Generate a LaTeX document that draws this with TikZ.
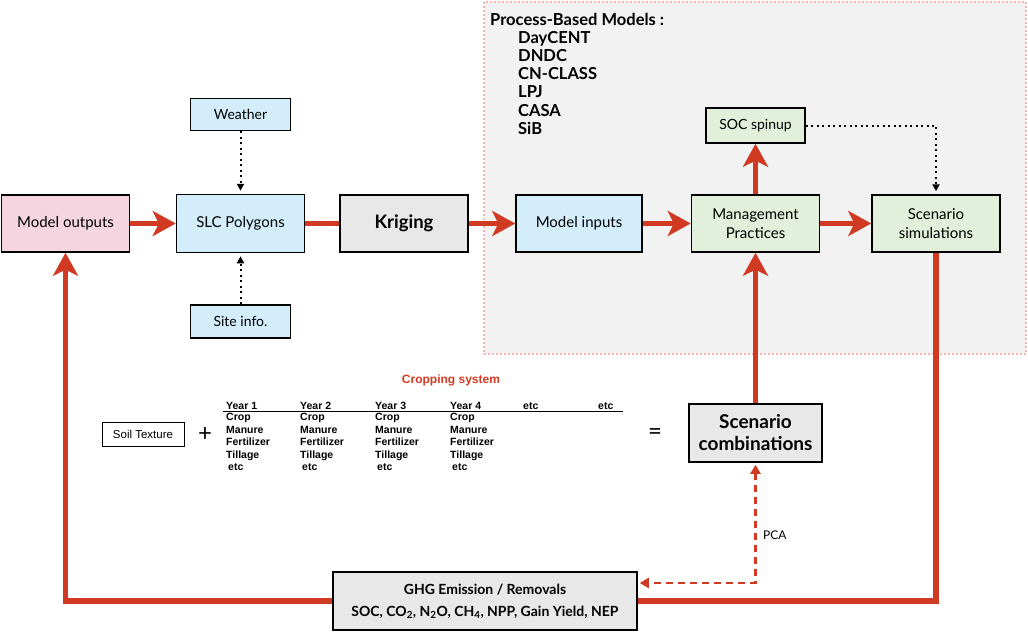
\documentclass[tikz,border=0pt]{standalone}
\usepackage{fontspec}
\setmainfont{Lato}
\newfontfamily\arialfont{Liberation Sans}
\usetikzlibrary{arrows.meta,positioning,backgrounds}

\definecolor{flowred}{HTML}{D13A22}
\definecolor{outpink}{HTML}{F5D5E0}
\definecolor{inblue}{HTML}{D3EEFA}
\definecolor{krggray}{HTML}{E8E8E8}
\definecolor{mgmtgreen}{HTML}{E2EFDA}
\definecolor{panelgray}{HTML}{F2F2F2}
\definecolor{panelpink}{HTML}{F2B8AE}

\tikzset{
  box/.style={draw=black, line width=1.5pt, align=center, inner sep=2pt,
    font=\fontsize{15}{19}\selectfont},
  smallbox/.style={box, font=\fontsize{14}{17}\selectfont},
  flow/.style={draw=flowred, line width=5.5pt,
    -{Stealth[length=23pt, width=25pt, inset=6pt]}},
  flowline/.style={draw=flowred, line width=5.5pt},
  feed/.style={draw=black, line width=2pt, dash pattern=on 2pt off 3.5pt, shorten >=3pt,
    -{Triangle[length=7pt, width=7pt]}},
  pcaflow/.style={draw=flowred, line width=2.6pt, dash pattern=on 7pt off 5pt,
    {Triangle[length=9pt, width=10pt]}-{Triangle[length=9pt, width=10pt]}},
  yearhead/.style={anchor=base west, inner sep=0pt,
    font=\arialfont\bfseries\fontsize{10.5}{12}\selectfont},
  cropcol/.style={anchor=north west, inner sep=0pt, align=left,
    font=\arialfont\bfseries\fontsize{10.5}{12.5}\selectfont},
}

\begin{document}
\begin{tikzpicture}[x=1pt, y=-1pt]
\useasboundingbox (0,0) rectangle (1028,632);

% process-based model panel
\draw[fill=panelgray, draw=panelpink, line width=1.2pt, dash pattern=on 2pt off 2pt]
  (484,2) rectangle (1026,354);
\node[anchor=west, inner sep=0pt, font=\bfseries\fontsize{16.5}{18}\selectfont] (pbm) at (490,19) {Process-Based Models :};
\node[anchor=north west, inner sep=0pt, align=left, font=\bfseries\fontsize{16.5}{18.2}\selectfont] (pbmlist) at (518,31)
  {DayCENT\\DNDC\\CN-CLASS\\LPJ\\CASA\\SiB};

% main row
\node[box, fill=outpink, minimum width=128pt, minimum height=57pt] (outputs) at (65.5,223.5) {Model outputs};
\node[box, fill=inblue, minimum width=128pt, minimum height=58pt] (slc) at (240.5,223.5) {SLC Polygons};
\node[smallbox, fill=inblue, minimum width=100pt, minimum height=32pt] (weather) at (240.5,114.5) {Weather};
\node[smallbox, fill=inblue, minimum width=100pt, minimum height=33pt] (site) at (240.5,321.5) {Site info.};
\node[box, fill=krggray, minimum width=128pt, minimum height=57pt, font=\bfseries\fontsize{18.5}{19}\selectfont] (kriging) at (404,223.5) {Kriging};
\node[box, fill=inblue, minimum width=126pt, minimum height=57pt] (inputs) at (579,223.5) {Model inputs};
\node[box, fill=mgmtgreen, minimum width=128pt, minimum height=57pt] (mgmt) at (755.5,223.5) {Management\\Practices};
\node[box, fill=mgmtgreen, minimum width=128pt, minimum height=57pt] (scensim) at (936,223.5) {Scenario\\simulations};
\node[smallbox, fill=mgmtgreen, minimum width=99pt, minimum height=35pt] (spinup) at (755.5,125.5) {SOC spinup};

% scenario row
\node[draw=black, line width=0.8pt, inner sep=3pt, minimum width=82pt, minimum height=24pt,
  font=\arialfont\fontsize{11.5}{14}\selectfont] (soil) at (143,434) {Soil Texture};
\node[font=\fontsize{24}{24}\selectfont] (plus) at (205,434) {+};
\node[font=\fontsize{24}{24}\selectfont] (equals) at (655,434) {=};
\node[text=flowred, font=\arialfont\bfseries\fontsize{12}{14}\selectfont] (cropsys) at (451,380) {Cropping system};
\node[yearhead] (year1) at (226,409) {Year 1};
\node[yearhead] (year2) at (300,409) {Year 2};
\node[yearhead] (year3) at (375,409) {Year 3};
\node[yearhead] (year4) at (450,409) {Year 4};
\node[yearhead] (etc1) at (523,409) {etc};
\node[yearhead] (etc2) at (598,409) {etc};
\draw[line width=0.8pt] (223,411.5) -- (623,411.5);
\node[cropcol] (col1) at (226,413) {Crop\\Manure\\Fertilizer\\Tillage\\\hspace{2pt}etc};
\node[cropcol] (col2) at (300,413) {Crop\\Manure\\Fertilizer\\Tillage\\\hspace{2pt}etc};
\node[cropcol] (col3) at (375,413) {Crop\\Manure\\Fertilizer\\Tillage\\\hspace{2pt}etc};
\node[cropcol] (col4) at (450,413) {Crop\\Manure\\Fertilizer\\Tillage\\\hspace{2pt}etc};
\node[box, fill=krggray, minimum width=133pt, minimum height=58pt, font=\bfseries\fontsize{19}{22}\selectfont] (scencomb) at (755.5,433) {Scenario\\combinations};

% outputs
\node[box, fill=krggray, minimum width=304pt, minimum height=58pt, font=\bfseries\fontsize{14}{22}\selectfont] (ghg) at (485,601)
  {GHG Emission / Removals\\SOC, CO\textsubscript{2}, N\textsubscript{2}O, CH\textsubscript{4}, NPP, Gain Yield, NEP};

% connectors
\draw[flow] (outputs) -- (slc);
\draw[flowline] (slc) -- (kriging);
\draw[flow] (kriging) -- (inputs);
\draw[flow] (inputs) -- (mgmt);
\draw[flow] (mgmt) -- (scensim);
\draw[flow] (mgmt) -- (spinup);
\draw[flow] (scencomb) -- (mgmt);
\draw[feed] (weather) -- (slc);
\draw[feed] (site) -- (slc);
\draw[feed] (spinup.east) -| (scensim.north);
\draw[flowline] (scensim.south) |- (ghg.east);
\draw[flow] (ghg.west) -| (outputs.south);
\draw[pcaflow, shorten <=2pt, shorten >=2pt] (scencomb.south) |- ([yshift=18pt]ghg.east)
  node[pos=0.3, right, font=\fontsize{12}{14}\selectfont, xshift=3pt] (pca) {PCA};
\end{tikzpicture}
\end{document}
